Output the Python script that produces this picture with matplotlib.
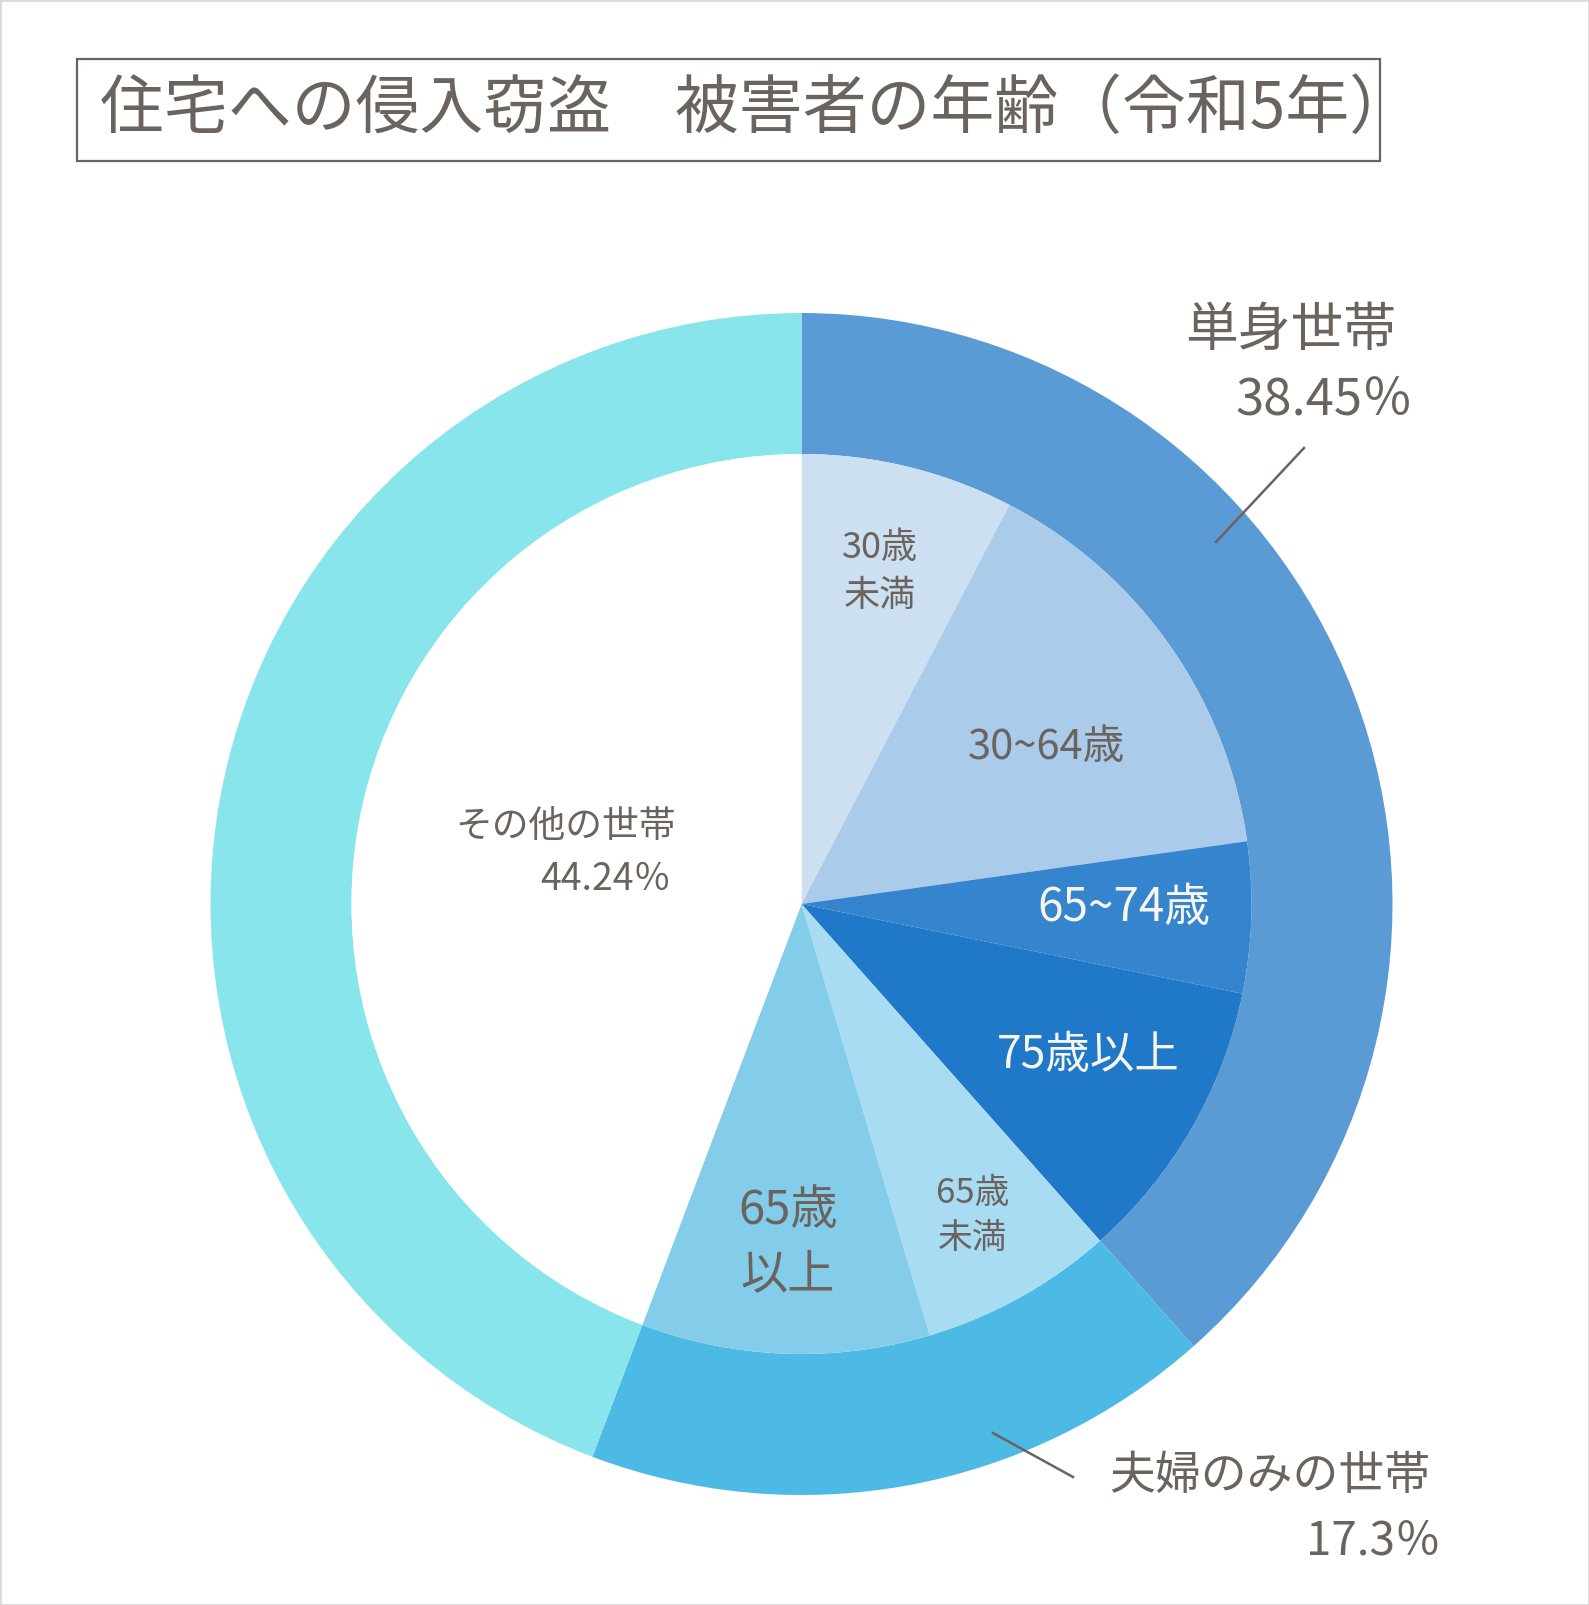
import matplotlib
matplotlib.use('Agg')
import matplotlib.pyplot as plt
from matplotlib.patches import Rectangle

plt.rcParams['font.family'] = ['Noto Sans CJK JP', 'DejaVu Sans']

# ---- data ----
title = '住宅への侵入窃盗　被害者の年齢（令和5年）'
outer_labels = ['単身世帯', '夫婦のみの世帯', 'その他の世帯']
outer_values = [38.45, 17.3, 44.24]
outer_pct = ['38.45％', '17.3％', '44.24％']
inner_labels = ['30歳\n未満', '30~64歳', '65~74歳', '75歳以上', '65歳\n未満', '65歳\n以上', '']
inner_values = [7.64, 15.13, 5.42, 10.26, 6.95, 10.35, 44.24]

# ---- styles ----
outer_colors = ['#5B9BD5', '#4DB9E5', '#87E5EB']
inner_colors = ['#CDE0F2', '#ABCBEA', '#3584CE', '#1F78C8', '#A8DCF2', '#83CDEA', '#FFFFFF']
TXT = '#6B645E'
WHITE = '#F8F5EC'

W, H = 1589, 1605
fig = plt.figure(figsize=(W / 100, H / 100), dpi=100)
ax = fig.add_axes([0, 0, 1, 1])

cx, cy = 801.5, H - 904
R_out, R_in = 591, 450

ax.pie(outer_values, radius=R_out, center=(cx, cy), startangle=90, counterclock=False,
       colors=outer_colors, wedgeprops=dict(width=R_out - R_in, linewidth=0))
ax.pie(inner_values, radius=R_in, center=(cx, cy), startangle=90, counterclock=False,
       colors=inner_colors, wedgeprops=dict(linewidth=0))

ax.set_xlim(0, W)
ax.set_ylim(0, H)
ax.set_aspect('equal')
ax.axis('off')

def Y(y):
    return H - y

# title box
ax.add_patch(Rectangle((77, Y(160.5)), 1303, 102, fill=False, edgecolor=TXT, linewidth=1.6))
ax.text(756, Y(110), title, fontsize=46, color=TXT, ha='center', va='center')

# outer labels
ax.text(1291, Y(330), outer_labels[0], fontsize=38, color=TXT, ha='center', va='center')
ax.text(1413, Y(401), outer_pct[0], fontsize=36.5, color=TXT, ha='right', va='center')
ax.plot([1304, 1216], [Y(448), Y(542)], color=TXT, linewidth=1.8)

ax.text(1430, Y(1476), outer_labels[1], fontsize=33, color=TXT, ha='right', va='center')
ax.text(1441, Y(1541), outer_pct[1], fontsize=33, color=TXT, ha='right', va='center')
ax.plot([993, 1073], [Y(1433), Y(1477)], color=TXT, linewidth=1.8)

ax.text(676, Y(826), outer_labels[2], fontsize=26.5, color=TXT, ha='right', va='center')
ax.text(671, Y(879), outer_pct[2], fontsize=27, color=TXT, ha='right', va='center')

# inner labels
inner_pos = [(880, 572), (1046, 747), (1124, 908), (1088, 1055), (973, 1216), (788, 1243)]
inner_size = [26, 30, 33, 32, 25, 34]
inner_ls = [1.4, 1.3, 1.3, 1.3, 1.4, 1.45]
inner_tc = [TXT, TXT, WHITE, WHITE, TXT, TXT]
for lab, (x, y), s, ls, c in zip(inner_labels, inner_pos, inner_size, inner_ls, inner_tc):
    ax.text(x, Y(y), lab, fontsize=s, color=c, ha='center', va='center', linespacing=ls)

# light frame
fig.patches.append(Rectangle((0, 0), 1, 1, transform=fig.transFigure, fill=False,
                             edgecolor='#D9D9D9', linewidth=2))

fig.savefig('out.png', dpi=100)
